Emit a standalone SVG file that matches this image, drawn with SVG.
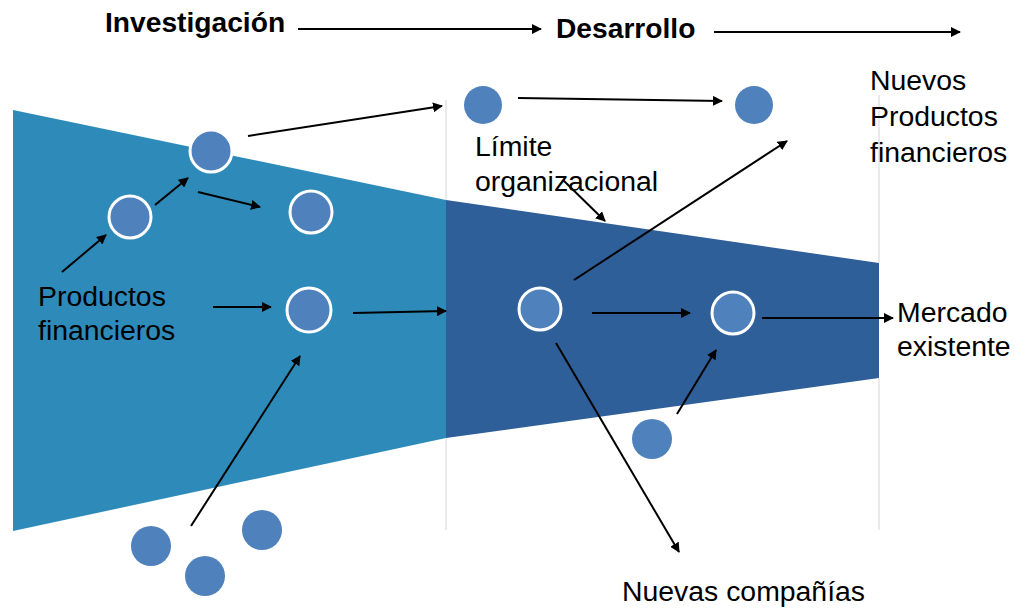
<svg xmlns="http://www.w3.org/2000/svg" width="1015" height="608" viewBox="0 0 1015 608">
<defs>
<marker id="ah" viewBox="0 0 10 10" refX="9" refY="5" markerWidth="5" markerHeight="5" orient="auto" markerUnits="strokeWidth">
<path d="M0,0 L10,5 L0,10 z" fill="#000"/>
</marker>
<style>
.t{font-family:"Liberation Sans",Arial,sans-serif;font-size:28.4px;fill:#000}
.b{font-family:"Liberation Sans",Arial,sans-serif;font-size:28.2px;font-weight:bold;fill:#000}
.n{fill:#4F81BD;stroke:#fff;stroke-width:3}
.p{fill:#4F81BD}
.c{stroke:#000;stroke-width:2;fill:none;marker-end:url(#ah)}
.g{stroke:#e3e3e3;stroke-width:1.5}
</style>
</defs>
<rect width="1015" height="608" fill="#fff"/>
<g id="funnel">
<polygon points="13,110 446,200 446,438 13,531" fill="#2E8BB9"/>
<polygon points="446,200 879,263 879,378 446,438" fill="#2F5F98"/>
<line class="g" x1="446" y1="100" x2="446" y2="200"/>
<line class="g" x1="446" y1="438" x2="446" y2="530"/>
<line class="g" x1="879" y1="95" x2="879" y2="263"/>
<line class="g" x1="879" y1="378" x2="879" y2="530"/>
</g>
<g id="labels">
<text class="b" x="105" y="32">Investigación</text>
<text class="b" x="556" y="38">Desarrollo</text>
<text class="t" x="870" y="90">Nuevos</text>
<text class="t" x="870" y="126">Productos</text>
<text class="t" x="870" y="162">financieros</text>
<text class="t" x="475" y="156">Límite</text>
<text class="t" x="475" y="191">organizacional</text>
<text class="t" x="38" y="306">Productos</text>
<text class="t" x="38" y="340">financieros</text>
<text class="t" x="897" y="322">Mercado</text>
<text class="t" x="897" y="356">existente</text>
<text class="t" x="622" y="601">Nuevas compañías</text>
</g>
<g id="connectors">
<line class="c" x1="298" y1="29" x2="541" y2="29"/>
<line class="c" x1="714" y1="32" x2="960" y2="32"/>
<line class="c" x1="518" y1="98" x2="722" y2="101"/>
<line class="c" x1="62" y1="272" x2="106" y2="235"/>
<line class="c" x1="155" y1="205" x2="188" y2="178"/>
<line class="c" x1="198" y1="192" x2="260" y2="207"/>
<line class="c" x1="248" y1="136" x2="442" y2="106"/>
<line class="c" x1="213" y1="307" x2="271" y2="307"/>
<line class="c" x1="353" y1="313" x2="446" y2="311"/>
<line class="c" x1="191" y1="526" x2="300" y2="356"/>
<line class="c" x1="592" y1="313" x2="690" y2="313"/>
<line class="c" x1="762" y1="318" x2="893" y2="318"/>
<line class="c" x1="574" y1="280" x2="787" y2="141"/>
<line class="c" x1="556" y1="343" x2="679" y2="552"/>
<line class="c" x1="677" y1="414" x2="716" y2="350"/>
<line class="c" x1="563" y1="180" x2="605" y2="221"/>
</g>
<g id="node-top1"><circle class="p" cx="483" cy="105" r="19"/></g>
<g id="node-top2"><circle class="p" cx="754" cy="105" r="19"/></g>
<g id="node-a"><circle class="n" cx="211" cy="151" r="21"/></g>
<g id="node-b"><circle class="n" cx="130" cy="217" r="21"/></g>
<g id="node-c"><circle class="n" cx="311" cy="212" r="21"/></g>
<g id="node-d"><circle class="n" cx="309" cy="310" r="22"/></g>
<g id="node-e"><circle class="n" cx="540" cy="309" r="21"/></g>
<g id="node-f"><circle class="n" cx="733" cy="313" r="21"/></g>
<g id="node-g"><circle class="p" cx="652" cy="439" r="20"/></g>
<g id="node-h"><circle class="p" cx="151" cy="546" r="20"/></g>
<g id="node-i"><circle class="p" cx="205" cy="576" r="20"/></g>
<g id="node-j"><circle class="p" cx="262" cy="530" r="20"/></g>
</svg>
